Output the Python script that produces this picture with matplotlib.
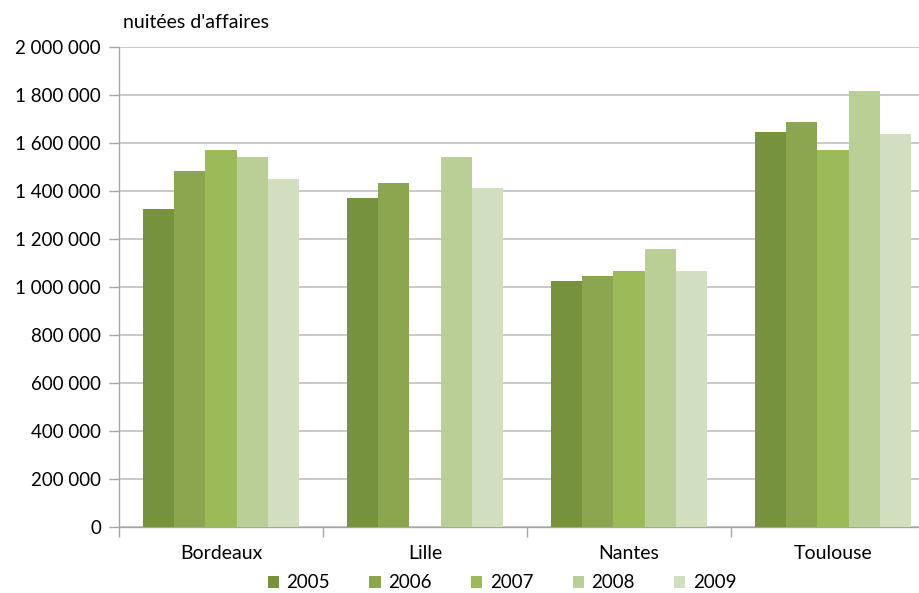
import numpy as np
import matplotlib
matplotlib.use("Agg")
import matplotlib.pyplot as plt
from matplotlib.ticker import FuncFormatter

plt.rcParams['font.family'] = ['Lato', 'DejaVu Sans']

cities = ["Bordeaux", "Lille", "Nantes", "Toulouse"]
years = ["2005", "2006", "2007", "2008", "2009"]
v2005 = [1326000, 1369000, 1024000, 1646000]
v2006 = [1485000, 1433000, 1047000, 1689000]
v2007 = [1571000, np.nan, 1067000, 1571000]
v2008 = [1541000, 1540000, 1157000, 1815000]
v2009 = [1449000, 1412000, 1067000, 1639000]
series = [v2005, v2006, v2007, v2008, v2009]
colors = ["#76923C", "#8BA64F", "#9BBB59", "#BACF95", "#D2DFBE"]

fig = plt.figure(figsize=(9.19, 5.93), dpi=100)
W, H = 919, 593
x0, x1 = 119, 935
y0, y1 = 527, 47
ax = fig.add_axes([x0 / W, (H - y0) / H, (x1 - x0) / W, (y0 - y1) / H])

bw = 0.153
x = np.arange(len(cities))
for i, (vals, c, yr) in enumerate(zip(series, colors, years)):
    ax.bar(x + (i - 2) * bw, vals, width=bw, color=c, label=yr, zorder=3)

ax.set_xlim(-0.5, 3.5)
ax.set_ylim(0, 2000000)
ax.set_yticks(np.arange(0, 2000001, 200000))
ax.yaxis.set_major_formatter(FuncFormatter(lambda v, p: f"{int(v):,}".replace(",", " ")))
ax.set_xticks([-0.5, 0.5, 1.5, 2.5, 3.5])
ax.set_xticklabels([])
ax.set_xticks(x, minor=True)
ax.set_xticklabels(cities, minor=True)
ax.tick_params(axis='x', which='minor', length=0, pad=13, labelsize=14, colors='black')
ax.tick_params(axis='x', which='major', length=7, color='#A6A6A6', width=1)
ax.tick_params(axis='y', length=7, color='#A6A6A6', width=1, labelsize=13.5, pad=6)
ax.grid(axis='y', color='#BFBFBF', linewidth=1.2, zorder=0)
for s in ['top', 'right']:
    ax.spines[s].set_visible(False)
for s in ['left', 'bottom']:
    ax.spines[s].set_color('#A6A6A6')
    ax.spines[s].set_linewidth(1)

fig.text(123 / W, 1 - 23 / H, "nuitées d'affaires", fontsize=14, va='center', ha='left')

leg = fig.legend(loc='center', bbox_to_anchor=(502 / W, 1 - 583 / H), ncol=5, frameon=False,
                 fontsize=13.5, handlelength=0.6, handleheight=0.6, columnspacing=2.1, handletextpad=0.4)

fig.savefig("out.png", dpi=100)
